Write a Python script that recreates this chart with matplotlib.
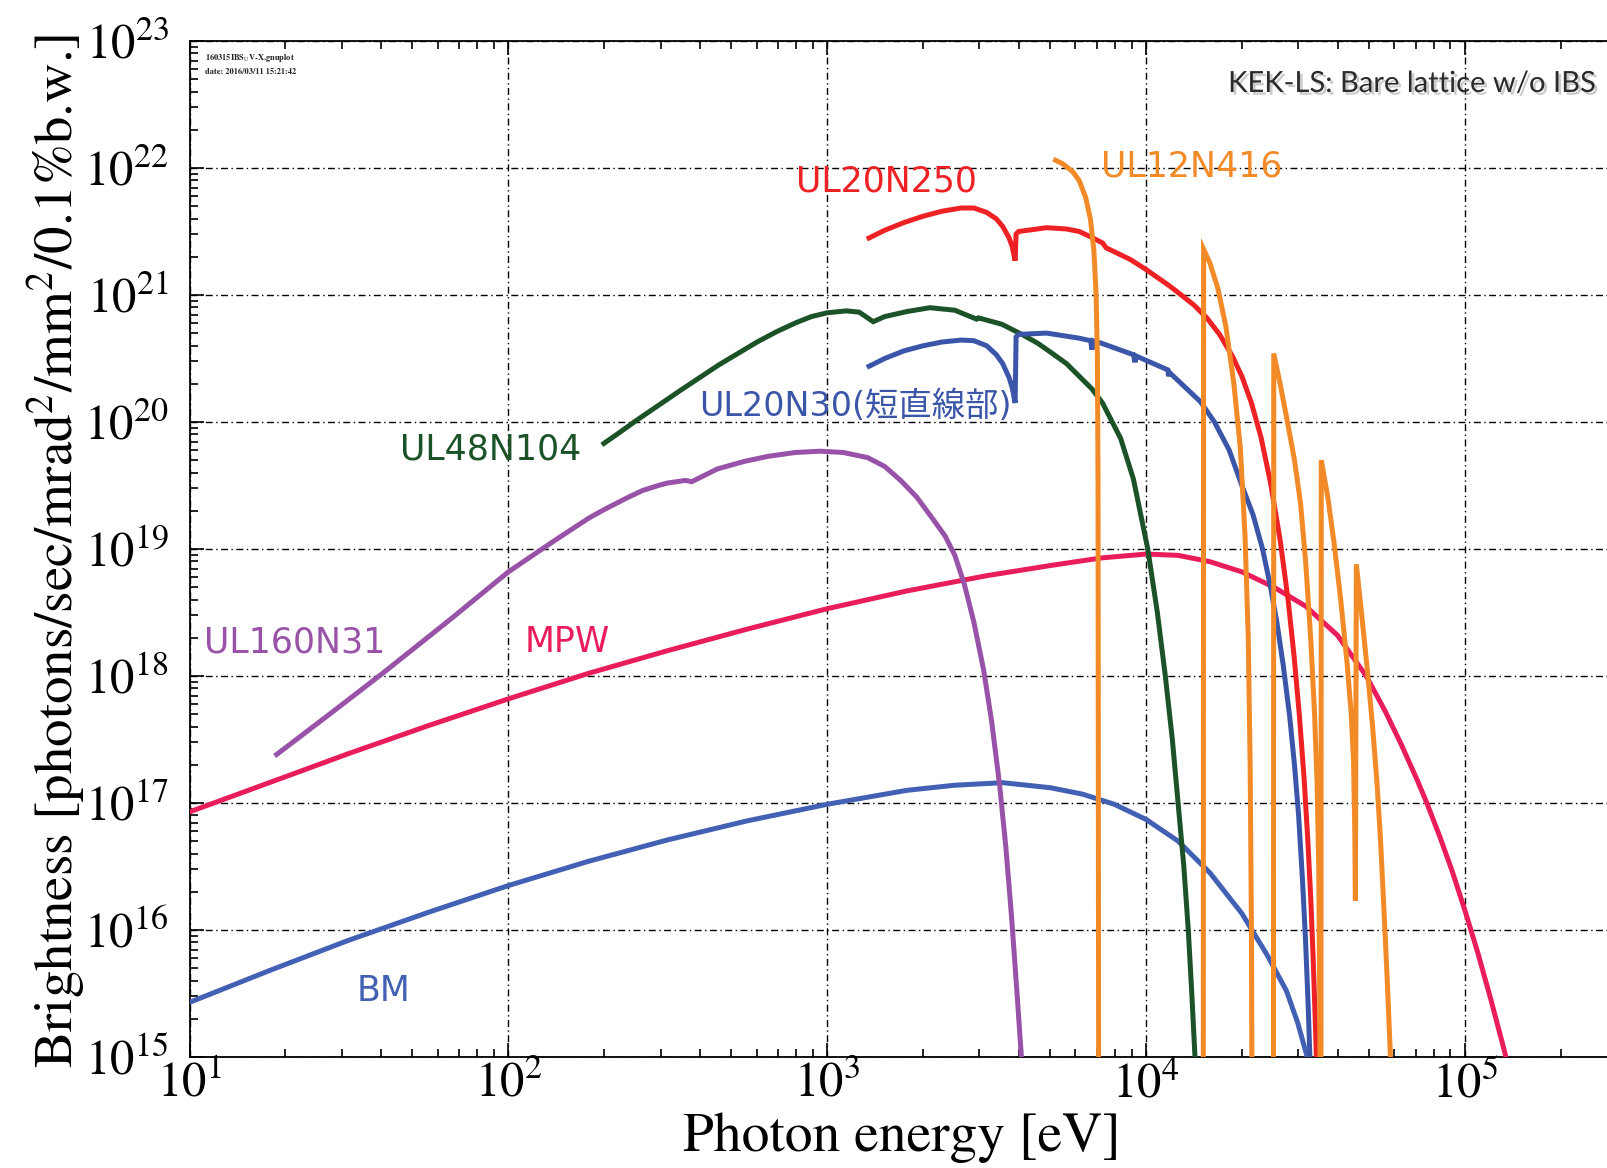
import numpy as np
import matplotlib
matplotlib.use("Agg")
import matplotlib.pyplot as plt
import matplotlib.ticker as mticker
import matplotlib.patheffects as pe

plt.rcParams['font.family'] = ['STIXGeneral', 'DejaVu Serif']
plt.rcParams['mathtext.fontset'] = 'stix'

# log10(photon energy [eV]) / log10(brightness) read per source
bm_loge = [1.0, 1.25, 1.5, 1.75, 2.0, 2.25, 2.5, 2.75, 3.0, 3.25, 3.4, 3.55, 3.7, 3.8, 3.9,
           4.0, 4.1, 4.2, 4.3, 4.38, 4.44, 4.475, 4.505, 4.51]
bm_logb = [15.43, 15.68, 15.92, 16.14, 16.35, 16.54, 16.71, 16.86, 16.99, 17.1, 17.14, 17.16, 17.12, 17.07, 16.99,
           16.87, 16.7, 16.45, 16.13, 15.8, 15.52, 15.27, 15.0, 14.95]

mpw_loge = [1.0, 1.25, 1.5, 1.75, 2.0, 2.25, 2.5, 2.75, 3.0, 3.25, 3.5, 3.7, 3.86, 4.0, 4.1, 4.2,
            4.3, 4.4, 4.5, 4.6, 4.69, 4.75, 4.80, 4.85, 4.88, 4.92, 4.96, 5.0, 5.04, 5.08, 5.12, 5.13]
mpw_logb = [16.93, 17.16, 17.39, 17.61, 17.82, 18.02, 18.2, 18.37, 18.53, 18.67, 18.79, 18.87, 18.93, 18.96, 18.95, 18.9,
            18.82, 18.7, 18.55, 18.32, 18.0, 17.72, 17.46, 17.18, 17.0, 16.74, 16.46, 16.15, 15.82, 15.46, 15.08, 14.98]

ul160_loge = [1.267, 1.45, 1.605, 1.815, 2.0, 2.135, 2.25, 2.30, 2.37, 2.42, 2.47, 2.50, 2.555, 2.575, 2.655,
              2.74, 2.815, 2.90, 2.976, 3.05, 3.126, 3.18, 3.23, 3.28, 3.33, 3.37, 3.40, 3.43, 3.46, 3.49,
              3.515, 3.54, 3.56, 3.578, 3.595, 3.61, 3.615]
ul160_logb = [17.37, 17.72, 18.02, 18.44, 18.82, 19.05, 19.24, 19.31, 19.40, 19.46, 19.50, 19.52, 19.54, 19.53, 19.63,
              19.69, 19.73, 19.76, 19.77, 19.76, 19.72, 19.65, 19.54, 19.41, 19.24, 19.1, 18.95, 18.72, 18.42, 18.05,
              17.65, 17.15, 16.65, 16.1, 15.5, 14.95, 14.8]

ul48_loge = [2.293, 2.35, 2.40, 2.47, 2.54, 2.60, 2.66, 2.72, 2.78, 2.84, 2.90, 2.95, 3.0, 3.06, 3.10,
             3.144, 3.18, 3.25, 3.322, 3.40, 3.468, 3.474, 3.547, 3.61, 3.66, 3.70, 3.75, 3.79, 3.83,
             3.863, 3.92, 3.96, 4.005, 4.035, 4.06, 4.082, 4.10, 4.118, 4.132, 4.143, 4.153, 4.156]
ul48_logb = [19.82, 19.92, 20.01, 20.13, 20.25, 20.35, 20.45, 20.54, 20.63, 20.71, 20.78, 20.83, 20.86, 20.875, 20.865,
             20.79, 20.83, 20.87, 20.9, 20.88, 20.81, 20.82, 20.77, 20.69, 20.62, 20.55, 20.46, 20.36, 20.26,
             20.15, 19.87, 19.55, 19.0, 18.5, 18.0, 17.5, 17.0, 16.5, 16.0, 15.5, 15.0, 14.8]

ul20n250_loge = [3.124, 3.18, 3.24, 3.30, 3.36, 3.42, 3.46, 3.50, 3.53, 3.55, 3.57, 3.58, 3.589, 3.592, 3.60,
                 3.688, 3.75, 3.79, 3.824, 3.863, 3.875, 3.884, 3.95, 4.0, 4.074, 4.11, 4.15, 4.19, 4.23,
                 4.27, 4.30, 4.33, 4.36, 4.39, 4.42, 4.445, 4.464, 4.48, 4.495, 4.507, 4.516, 4.524, 4.53, 4.535]
ul20n250_logb = [21.44, 21.51, 21.57, 21.62, 21.66, 21.685, 21.685, 21.65, 21.6, 21.54, 21.45, 21.38, 21.27, 21.48, 21.5,
                 21.53, 21.52, 21.5, 21.46, 21.41, 21.37, 21.36, 21.28, 21.2, 21.07, 21.0, 20.92, 20.82, 20.69,
                 20.52, 20.36, 20.15, 19.88, 19.52, 19.07, 18.6, 18.15, 17.7, 17.2, 16.7, 16.25, 15.75, 15.3, 14.9]

ul20n30_loge = [3.124, 3.18, 3.24, 3.30, 3.36, 3.42, 3.46, 3.50, 3.53, 3.55, 3.57, 3.58, 3.589, 3.592, 3.60,
                3.688, 3.79, 3.826, 3.83, 3.833, 3.86, 3.96, 3.965, 3.968, 4.068, 4.07, 4.073, 4.17, 4.214,
                4.26, 4.30, 4.335, 4.365, 4.39, 4.41, 4.43, 4.45, 4.465, 4.478, 4.49, 4.50, 4.508, 4.514, 4.516]
ul20n30_logb = [20.43, 20.5, 20.56, 20.6, 20.63, 20.645, 20.64, 20.6, 20.53, 20.46, 20.35, 20.27, 20.15, 20.67, 20.69,
                20.7, 20.66, 20.64, 20.57, 20.64, 20.62, 20.53, 20.47, 20.52, 20.41, 20.36, 20.39, 20.16, 20.0,
                19.78, 19.5, 19.27, 19.0, 18.7, 18.42, 18.08, 17.68, 17.3, 16.9, 16.4, 15.9, 15.4, 14.95, 14.8]

# harmonics 1, 3, 5, 7, 9 joined in one trace
ul12_loge = [3.709, 3.74, 3.77, 3.79, 3.81, 3.825, 3.836, 3.843, 3.847, 3.849, 3.85, 3.851,
             4.179, 4.18, 4.20, 4.225, 4.25, 4.275, 4.295, 4.31, 4.32, 4.326, 4.33, 4.332,
             4.399, 4.40, 4.42, 4.443, 4.465, 4.484, 4.50, 4.516, 4.528, 4.536, 4.541, 4.544, 4.546,
             4.548, 4.549, 4.57, 4.589, 4.61, 4.63, 4.643, 4.65, 4.654, 4.656,
             4.659, 4.675, 4.693, 4.71, 4.724, 4.735, 4.745, 4.756, 4.766, 4.768]
ul12_logb = [22.07, 22.03, 21.97, 21.9, 21.77, 21.6, 21.35, 21.0, 20.5, 19.5, 17.0, 14.5,
             14.5, 21.36, 21.25, 21.05, 20.75, 20.3, 19.8, 19.1, 18.3, 17.3, 16.0, 14.5,
             14.5, 20.54, 20.3, 20.0, 19.7, 19.36, 18.9, 18.29, 17.7, 17.15, 16.5, 15.5, 14.5,
             14.5, 19.70, 19.4, 19.05, 18.6, 18.1, 17.7, 17.34, 16.8, 16.23,
             18.88, 18.5, 18.06, 17.6, 17.15, 16.7, 16.19, 15.6, 15.0, 14.5]

series = [
    (bm_loge, bm_logb, "#4361B4"),
    (mpw_loge, mpw_logb, "#E91D5B"),
    (ul160_loge, ul160_logb, "#9852A8"),
    (ul48_loge, ul48_logb, "#1C5227"),
    (ul20n30_loge, ul20n30_logb, "#3B56A8"),
    (ul20n250_loge, ul20n250_logb, "#EE2125"),
    (ul12_loge, ul12_logb, "#F28A28"),
]

# label text, log10 E, log10 B, colour, size
labels = [
    ("UL20N250", 3.187, 21.89, "#EE2125", 25),
    ("UL12N416", 4.143, 22.01, "#F28A28", 25),
    ("UL20N30(短直線部)", 3.087, 20.12, "#3B56A8", 24),
    ("UL48N104", 1.945, 19.78, "#1C5227", 25),
    ("UL160N31", 1.331, 18.26, "#9852A8", 25),
    ("MPW", 2.184, 18.27, "#E91D5B", 25),
    ("BM", 1.607, 15.52, "#4361B4", 25),
]

W, H = 1607, 1168
fig = plt.figure(figsize=(W / 100, H / 100), dpi=100)
ax = fig.add_axes([189.5 / W, 111 / H, 1 - 189.5 / W, 1016 / H])

for le, lb, c in series:
    ax.plot(10 ** np.array(le), 10 ** np.array(lb), color=c, lw=3.6,
            solid_joinstyle='miter', solid_capstyle='butt', zorder=3)

ax.set_xscale('log')
ax.set_yscale('log')
ax.set_xlim(10, 10 ** 5.445)
ax.set_ylim(1e15, 1e23)

ax.xaxis.set_major_locator(mticker.FixedLocator([10.0 ** k for k in range(1, 6)]))
ax.yaxis.set_major_locator(mticker.FixedLocator([10.0 ** k for k in range(15, 24)]))
ax.xaxis.set_major_formatter(mticker.FuncFormatter(lambda v, p: r"$10^{%d}$" % round(np.log10(v))))
ax.yaxis.set_major_formatter(mticker.FuncFormatter(lambda v, p: r"$10^{%d}$" % round(np.log10(v))))
ax.xaxis.set_minor_locator(mticker.LogLocator(base=10, subs=np.arange(2, 10), numticks=20))
ax.yaxis.set_minor_locator(mticker.LogLocator(base=10, subs=np.arange(2, 10), numticks=20))
ax.xaxis.set_minor_formatter(mticker.NullFormatter())
ax.yaxis.set_minor_formatter(mticker.NullFormatter())

ax.tick_params(which='both', direction='in', top=True, right=False, width=1.2, color='black')
ax.tick_params(which='major', length=10, labelsize=35)
ax.tick_params(which='minor', length=6)
ax.tick_params(axis='x', which='major', pad=4)
ax.tick_params(axis='y', which='major', pad=15)

ax.grid(True, which='major', color='black', lw=1.0, linestyle=(0, (5, 2.5, 1, 2.5)))
ax.spines['right'].set_visible(False)
for s in ['left', 'bottom', 'top']:
    ax.spines[s].set_linewidth(1.3)

ax.set_xlabel("Photon energy [eV]", fontsize=40)
ax.xaxis.set_label_coords(0.5026, -0.0797)
ax.xaxis.label.set_va('center')
ax.set_ylabel("Brightness [photons/sec/mrad$^2$/mm$^2$/0.1%b.w.]", fontsize=39.5)
ax.yaxis.set_label_coords(-0.0935, 0.498)
ax.yaxis.label.set_va('center')

for txt, le, lb, c, fs in labels:
    ax.text(10 ** le, 10 ** lb, txt, color=c, fontsize=fs, ha='center', va='center',
            family=['DejaVu Sans', 'Noto Sans CJK JP'], zorder=4)

ax.text(0.8625, 0.9577, "KEK-LS: Bare lattice w/o IBS", transform=ax.transAxes,
        fontsize=21, ha='center', va='center', color='#2b2b2b', family=['Lato', 'DejaVu Sans'],
        path_effects=[pe.withSimplePatchShadow(offset=(2, -2), shadow_rgbFace='#999999', alpha=0.5)])

ax.text(0.011, 0.983, r"160315IBS$_{\rm U}$V-X.gnuplot", transform=ax.transAxes,
        fontsize=6, fontweight='bold', ha='left', va='center', color='#222222')
ax.text(0.011, 0.9695, "date: 2016/03/11 15:21:42", transform=ax.transAxes,
        fontsize=6, fontweight='bold', ha='left', va='center', color='#222222')

fig.savefig("out.png", dpi=100, facecolor='white')
